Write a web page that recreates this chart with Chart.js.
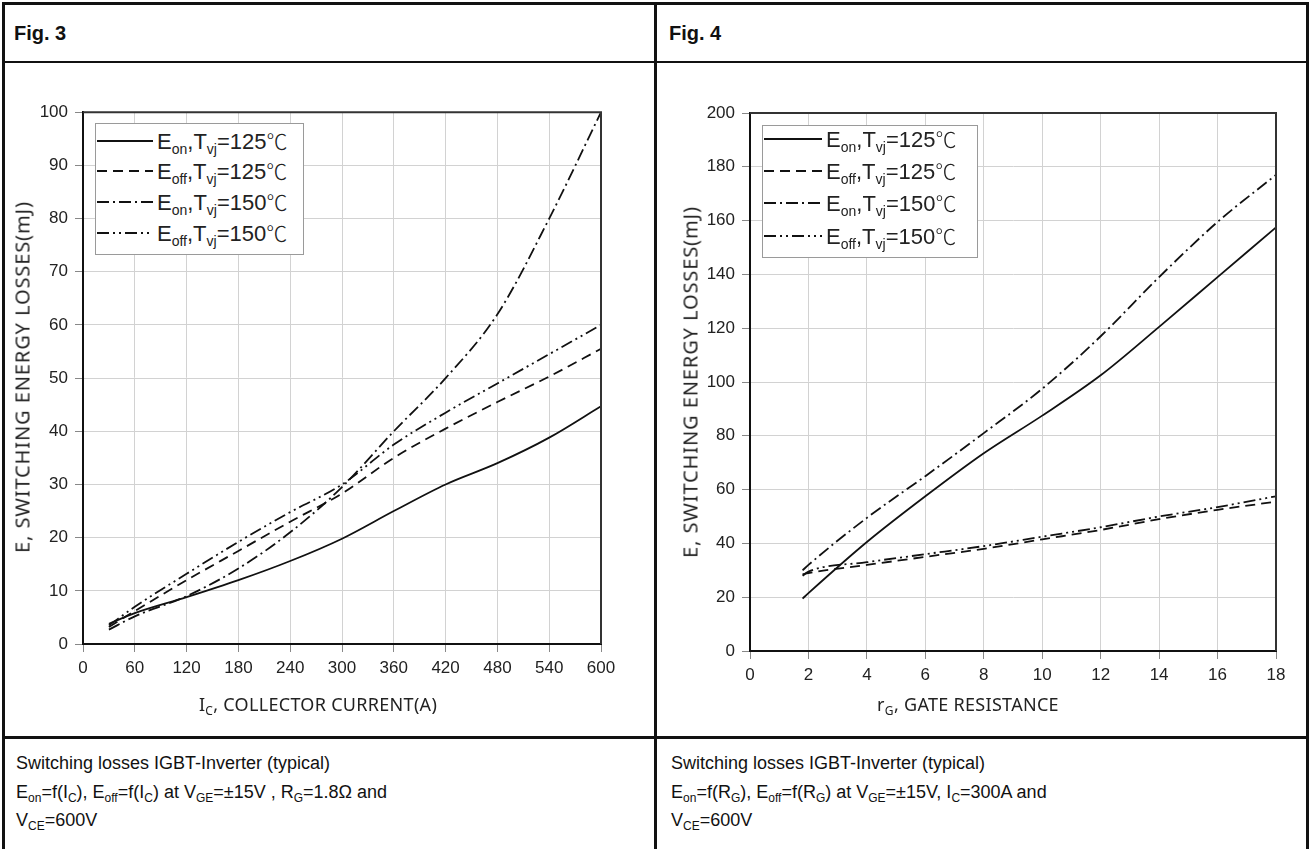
<!DOCTYPE html>
<html>
<head>
<meta charset="utf-8">
<script src="https://cdn.jsdelivr.net/npm/chart.js@4.4.1/dist/chart.umd.min.js"></script>
<style>
  html, body { margin:0; padding:0; background:#fff; }
  body { width:1311px; height:849px; position:relative; overflow:hidden; font-family:"Liberation Sans", Arial, sans-serif; color:#111; }
  .ln { position:absolute; background:#111; }
  .hdr { position:absolute; font-weight:bold; font-size:20px; line-height:22px; }
  .box { position:absolute; }
  .ytitle { position:absolute; font-family:"Noto Sans", sans-serif; font-size:20px; letter-spacing:0.9px; color:#222; white-space:nowrap; transform:translate(-50%,-50%) rotate(-90deg); }
  .xtitle { position:absolute; font-family:"Noto Sans", sans-serif; font-size:18px; letter-spacing:0.3px; color:#222; white-space:nowrap; transform:translate(-50%,-50%); }
  .xtitle sub { font-size:12px; vertical-align:-4px; }
  .legend { position:absolute; border:1px solid #9a9a9a; background:#fff; }
  .lrow { position:absolute; left:0; height:30px; display:flex; align-items:center; white-space:nowrap; font-size:22px; color:#222; }
  .lrow svg { flex:none; }
  .lrow span.t { margin-left:4px; }
  .lrow sub { font-size:14px; vertical-align:-5px; }
  .lrow .deg { font-family:"Noto Sans CJK SC", "DejaVu Sans", sans-serif; font-weight:300; font-size:21px; }
  .foot { position:absolute; font-size:18px; line-height:28.5px; color:#111; white-space:nowrap; }
  .foot sub { font-size:12px; vertical-align:-4px; line-height:0; }
</style>
</head>
<body>
<!-- table borders -->
<div class="ln" style="left:2px;top:2px;width:1307px;height:3px;"></div>
<div class="ln" style="left:2px;top:2px;width:3px;height:847px;"></div>
<div class="ln" style="left:1306px;top:2px;width:3px;height:847px;"></div>
<div class="ln" style="left:654px;top:2px;width:3px;height:847px;"></div>
<div class="ln" style="left:2px;top:61px;width:1307px;height:2px;"></div>
<div class="ln" style="left:2px;top:736px;width:1307px;height:3px;"></div>

<div class="hdr" style="left:14px;top:22px;">Fig. 3</div>
<div class="hdr" style="left:669px;top:22px;">Fig. 4</div>

<div class="box" style="left:5px;top:95px;width:645px;height:640px;"><canvas id="c1"></canvas></div>
<div class="box" style="left:660px;top:95px;width:645px;height:640px;"><canvas id="c2"></canvas></div>

<div class="ytitle" style="left:22px;top:377px;">E, SWITCHING ENERGY LOSSES(mJ)</div>
<div class="ytitle" style="left:690px;top:382px;">E, SWITCHING ENERGY LOSSES(mJ)</div>
<div class="xtitle" style="left:318px;top:705px;">I<sub>C</sub>, COLLECTOR CURRENT(A)</div>
<div class="xtitle" style="left:968px;top:705px;">r<sub>G</sub>, GATE RESISTANCE</div>

<div class="legend" id="lg1" style="left:95px;top:123px;width:207px;height:130px;"></div>
<div class="legend" id="lg2" style="left:762px;top:125px;width:214px;height:131px;"></div>

<div class="foot" style="left:16px;top:749px;">Switching losses IGBT-Inverter (typical)<br>E<sub>on</sub>=f(I<sub>C</sub>), E<sub>off</sub>=f(I<sub>C</sub>) at V<sub>GE</sub>=±15V , R<sub>G</sub>=1.8Ω and<br>V<sub>CE</sub>=600V</div>
<div class="foot" style="left:671px;top:749px;">Switching losses IGBT-Inverter (typical)<br>E<sub>on</sub>=f(R<sub>G</sub>), E<sub>off</sub>=f(R<sub>G</sub>) at V<sub>GE</sub>=±15V, I<sub>C</sub>=300A and<br>V<sub>CE</sub>=600V</div>

<script>
// ---- Fig. 3 data: switching energy vs collector current ----
const icA        = [30, 60, 120, 180, 240, 300, 360, 420, 480, 540, 600];
const eon125_ic  = [3.8, 5.8, 8.8, 12.0, 15.6, 19.8, 25.0, 30.0, 34.0, 38.8, 44.7];
const eoff125_ic = [3.2, 6.2, 12.0, 17.5, 23.0, 28.3, 35.0, 40.5, 45.5, 50.3, 55.5];
const eon150_ic  = [2.7, 5.2, 9.0, 14.2, 21.0, 29.5, 40.0, 50.0, 62.0, 80.0, 100.0];
const eoff150_ic = [3.5, 7.0, 13.2, 19.2, 24.8, 30.0, 37.5, 43.5, 49.0, 54.5, 60.0];
const xTicks1 = [0, 60, 120, 180, 240, 300, 360, 420, 480, 540, 600];
const yTicks1 = [0, 10, 20, 30, 40, 50, 60, 70, 80, 90, 100];

// ---- Fig. 4 data: switching energy vs gate resistance ----
const rg         = [1.8, 2, 4, 6, 8, 10, 12, 14, 16, 18];
const eon125_rg  = [19.5, 21.5, 40.5, 57.5, 73.5, 87.5, 102.5, 120.5, 139, 157.5];
const eoff125_rg = [28.5, 29, 32, 35, 38, 41.5, 45, 49, 52.5, 55.5];
const eon150_rg  = [30, 32, 49.5, 65, 81, 97.5, 117, 139, 159.5, 177];
const eoff150_rg = [28, 29.5, 33, 36, 39, 42.5, 46, 50, 53.5, 57.5];
const xTicks2 = [0, 2, 4, 6, 8, 10, 12, 14, 16, 18];
const yTicks2 = [0, 20, 40, 60, 80, 100, 120, 140, 160, 180, 200];

const seriesNames = [
  ['E', 'on', '125'],
  ['E', 'off', '125'],
  ['E', 'on', '150'],
  ['E', 'off', '150']
];
const dashes = [[], [10, 6], [12, 4, 2, 4], [12, 4, 2, 4, 2, 4]];

function pts(xs, ys) { return xs.map((x, i) => ({ x: x, y: ys[i] })); }

const frame = {
  id: 'frame',
  afterDatasetsDraw(chart) {
    const a = chart.chartArea, ctx = chart.ctx;
    ctx.save();
    ctx.strokeStyle = '#333';
    ctx.lineWidth = 2;
    ctx.beginPath();
    ctx.moveTo(a.left, a.top); ctx.lineTo(a.right, a.top); ctx.lineTo(a.right, a.bottom);
    ctx.stroke();
    ctx.restore();
  }
};

function makeChart(id, xs, ysList, xT, yT, pad, yW) {
  const ds = ysList.map((ys, i) => ({
    data: pts(xs, ys),
    borderColor: '#111',
    borderWidth: 1.8,
    borderDash: dashes[i],
    pointRadius: 0,
    fill: false,
    cubicInterpolationMode: 'monotone'
  }));
  const tickFont = { family: 'Liberation Sans', size: 17 };
  return new Chart(document.getElementById(id), {
    type: 'line',
    data: { datasets: ds },
    plugins: [frame],
    options: {
      responsive: true, maintainAspectRatio: false, animation: false,
      devicePixelRatio: 1,
      layout: { padding: pad },
      plugins: { legend: { display: false }, tooltip: { enabled: false } },
      scales: {
        x: {
          type: 'linear', min: xT[0], max: xT[xT.length - 1],
          afterBuildTicks: s => { s.ticks = xT.map(v => ({ value: v })); },
          afterFit: s => { s.height = 30; },
          ticks: { font: tickFont, color: '#222', padding: 6, maxRotation: 0 },
          grid: { color: '#d2d2d2', lineWidth: 1, tickLength: 8, tickColor: '#888' },
          border: { display: true, color: '#111', width: 2 }
        },
        y: {
          type: 'linear', min: yT[0], max: yT[yT.length - 1],
          afterBuildTicks: s => { s.ticks = yT.map(v => ({ value: v })); },
          afterFit: s => { s.width = yW; },
          ticks: { font: tickFont, color: '#222', padding: 7 },
          grid: { color: '#d2d2d2', lineWidth: 1, tickLength: 8, tickColor: '#888' },
          border: { display: true, color: '#111', width: 2 }
        }
      }
    }
  });
}

makeChart('c1', icA, [eon125_ic, eoff125_ic, eon150_ic, eoff150_ic], xTicks1, yTicks1,
  { left: 0, top: 15, right: 49, bottom: 61 }, 78);
makeChart('c2', rg, [eon125_rg, eoff125_rg, eon150_rg, eoff150_rg], xTicks2, yTicks2,
  { left: 0, top: 18, right: 29, bottom: 54 }, 90);

function buildLegend(id, lineW, rowTops) {
  const el = document.getElementById(id);
  seriesNames.forEach((n, i) => {
    const row = document.createElement('div');
    row.className = 'lrow';
    row.style.top = rowTops[i] + 'px';
    row.style.left = '1px';
    const da = dashes[i].length ? dashes[i].join(',') : 'none';
    row.innerHTML = '<svg width="' + lineW + '" height="4"><line x1="0" y1="2" x2="' + lineW +
      '" y2="2" stroke="#111" stroke-width="2.2" stroke-dasharray="' + da + '"/></svg>' +
      '<span class="t">' + n[0] + '<sub>' + n[1] + '</sub>,T<sub>vj</sub>=' + n[2] + '<span class="deg">\u2103</span></span>';
    el.appendChild(row);
  });
}
buildLegend('lg1', 56, [2, 32, 63, 94]);
buildLegend('lg2', 58, [-2, 30, 62, 95]);
</script>
</body>
</html>
